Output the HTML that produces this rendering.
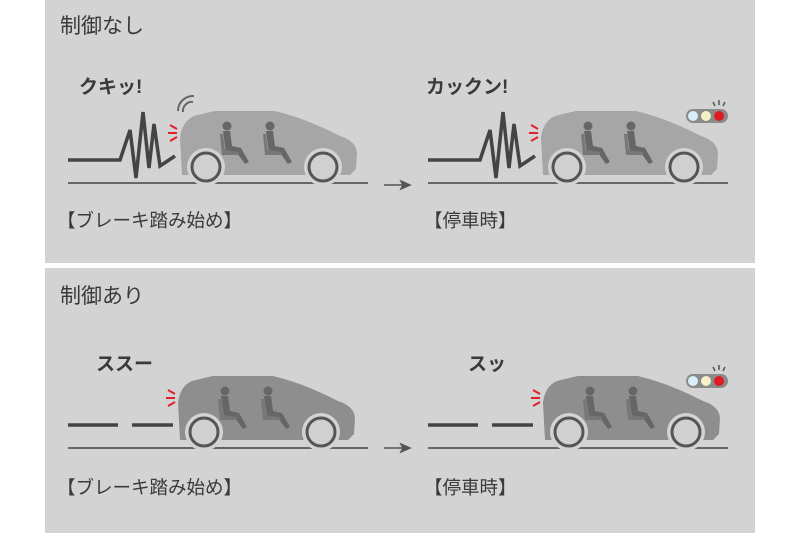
<!DOCTYPE html>
<html><head><meta charset="utf-8"><style>
html,body{margin:0;padding:0;background:#fff;}
svg{display:block}
text{font-family:"Liberation Sans","Noto Sans CJK JP",sans-serif;fill:#3a3a3a}
</style></head><body>
<svg width="800" height="533" viewBox="0 0 800 533" xmlns="http://www.w3.org/2000/svg">
<defs>
<g id="pax" fill="#666">
 <circle cx="0" cy="0" r="4.5"/>
 <path d="M-4,5 L3,5 L5,20 L14,22 L22,36 L18,38 L10,27 L-1,27 Z"/>
 <path d="M-7,8 L-4,8 L-2,24 L12,26 L12,29 L-5,29 Z" fill="#777"/>
</g>
</defs>
<rect x="45" y="0" width="710" height="263" fill="#d3d3d3"/>
<rect x="45" y="268" width="710" height="265" fill="#d3d3d3"/>

<!-- texts -->
<text x="60" y="33" font-size="21">制御なし</text>
<text x="79" y="93" font-size="19" font-weight="bold">クキッ!</text>
<text x="426" y="93" font-size="19" font-weight="bold">カックン!</text>
<text x="57" y="227" font-size="18.5">【ブレーキ踏み始め】</text>
<text x="424" y="227" font-size="18.5">【停車時】</text>
<text x="60" y="303" font-size="21">制御あり</text>
<text x="96" y="370" font-size="19" font-weight="bold">ススー</text>
<text x="468" y="370" font-size="19" font-weight="bold">スッ</text>
<text x="57" y="494" font-size="18.5">【ブレーキ踏み始め】</text>
<text x="424" y="494" font-size="18.5">【停車時】</text>

<!-- ground lines -->
<g stroke="#666" stroke-width="2">
<line x1="68" y1="183" x2="368" y2="183"/>
<line x1="428" y1="183" x2="728" y2="183"/>
<line x1="68" y1="448" x2="368" y2="448"/>
<line x1="428" y1="448" x2="728" y2="448"/>
</g>
<!-- arrows -->
<g stroke="#555" stroke-width="1.5" fill="#555">
<line x1="384" y1="185" x2="408" y2="185"/><path d="M410,185 L401,181 L403,185 L401,189 Z"/>
<line x1="384" y1="448" x2="408" y2="448"/><path d="M410,448 L401,444 L403,448 L401,452 Z"/>
</g>

<!-- zigzags -->
<g fill="none" stroke="#444" stroke-width="3.5" stroke-linejoin="miter">
<path d="M68,160 L120,160 L130,130 L136,178 L143,112 L149,168 L154,124 L160,166 L175,156"/>
<path d="M428,160 L480,160 L490,130 L496,178 L503,112 L509,168 L514,124 L520,166 L535,156"/>
</g>
<!-- dashes -->
<g stroke="#444" stroke-width="3.5">
<line x1="68" y1="425" x2="118" y2="425"/><line x1="132" y1="425" x2="173" y2="425"/>
<line x1="428" y1="425" x2="478" y2="425"/><line x1="492" y1="425" x2="533" y2="425"/>
</g>

<!-- sound waves -->
<g fill="none" stroke="#666" stroke-width="2">
<path d="M183,112 A9,9 0 0 1 193,102"/>
<path d="M178,111 A15,15 0 0 1 194,96"/>
</g>

<!-- cars -->
<g id="carT" transform="translate(180,183)">
 <path d="M2,-8 L0,-45 Q2,-62 14,-67 L26,-70 L35,-72 L95,-72 Q125,-65 160,-47 Q176,-42 177,-30 L176,-14 L170,-8 Z" fill="#a6a6a6"/>
 <circle cx="26" cy="-16" r="19" fill="#d3d3d3"/><circle cx="143" cy="-16" r="19" fill="#d3d3d3"/>
 <circle cx="26" cy="-16" r="14" fill="#d0d0d0" stroke="#555" stroke-width="3"/>
 <circle cx="143" cy="-16" r="14" fill="#d0d0d0" stroke="#555" stroke-width="3"/>
 <use href="#pax" x="47" y="-57"/><use href="#pax" x="90" y="-57"/>
</g>
<use href="#carT" x="361" y="0"/>
<g id="carB" transform="translate(178,448)">
 <path d="M2,-8 L0,-45 Q2,-62 14,-67 L26,-70 L35,-72 L95,-72 Q125,-65 160,-47 Q176,-42 177,-30 L176,-14 L170,-8 Z" fill="#8e8e8e"/>
 <circle cx="26" cy="-16" r="19" fill="#d3d3d3"/><circle cx="143" cy="-16" r="19" fill="#d3d3d3"/>
 <circle cx="26" cy="-16" r="14" fill="#d0d0d0" stroke="#555" stroke-width="3"/>
 <circle cx="143" cy="-16" r="14" fill="#d0d0d0" stroke="#555" stroke-width="3"/>
 <use href="#pax" x="47" y="-57"/><use href="#pax" x="90" y="-57"/>
</g>
<use href="#carB" x="365" y="0"/>

<!-- red brake marks -->
<g id="red" stroke="#e0202a" stroke-width="2">
<line x1="170" y1="125" x2="177" y2="129"/><line x1="168" y1="133" x2="177" y2="133"/><line x1="170" y1="141" x2="177" y2="137"/>
</g>
<use href="#red" x="361" y="0"/>
<use href="#red" x="-2" y="265"/>
<use href="#red" x="363" y="265"/>

<!-- traffic lights -->
<g id="tl">
 <rect x="686" y="109" width="42" height="14" rx="7" fill="#8a8a8a"/>
 <circle cx="693" cy="116" r="5" fill="#d8eef8"/>
 <circle cx="706" cy="116" r="5" fill="#f4f0c8"/>
 <circle cx="719" cy="116" r="5" fill="#e01a22"/>
 <g stroke="#555" stroke-width="1.5"><line x1="713" y1="102" x2="715" y2="106"/><line x1="719" y1="100" x2="719" y2="105"/><line x1="725" y1="102" x2="723" y2="106"/></g>
</g>
<use href="#tl" x="0" y="265"/>
</svg>
</body></html>
